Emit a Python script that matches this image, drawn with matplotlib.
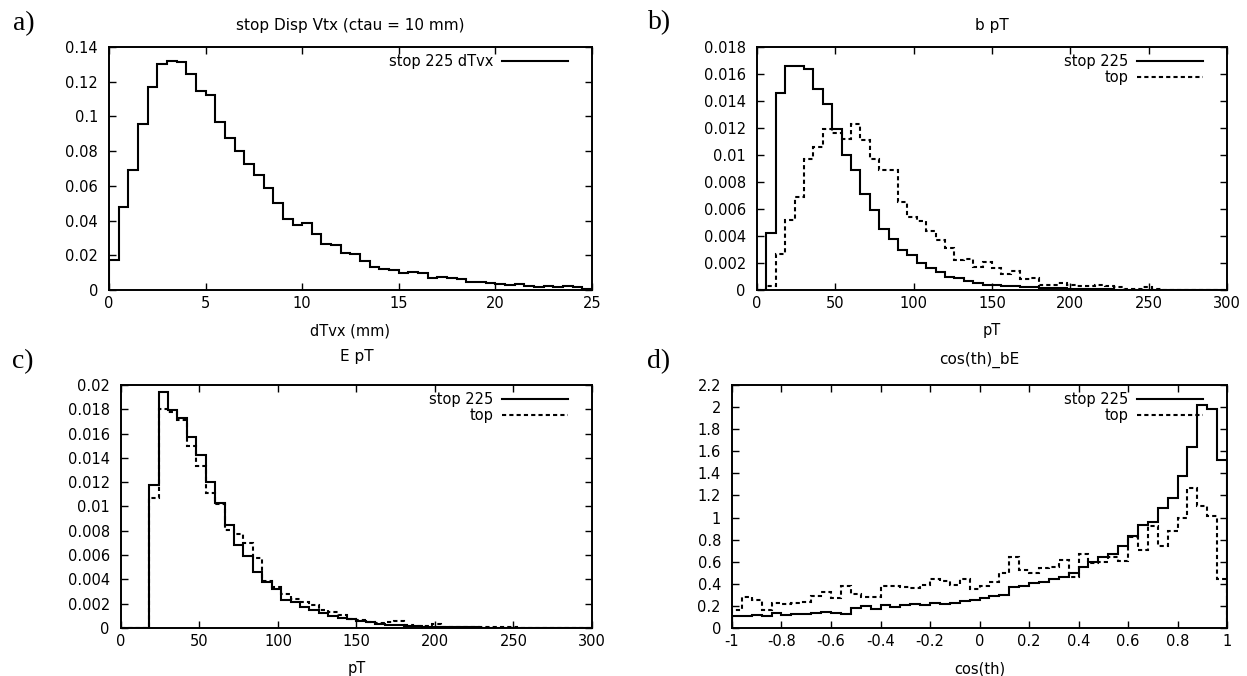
import matplotlib
matplotlib.use('Agg')
import matplotlib.pyplot as plt
import matplotlib.transforms as mtransforms
import numpy as np
from matplotlib.ticker import FuncFormatter, MultipleLocator

plt.rcParams['font.family'] = ['DejaVu Sans']

######################################################################

# HISTOGRAM CONTENTS

# a) displaced vertex, 50 bins of 0.5 mm from 0 to 25
dtvx_stop = [0.0175, 0.0476, 0.0694, 0.0957, 0.1172, 0.1304, 0.1319, 0.1313, 0.1246, 0.1149,
             0.1124, 0.0965, 0.0876, 0.0802, 0.0725, 0.0665, 0.0585, 0.0500, 0.0408, 0.0374,
             0.0385, 0.0320, 0.0265, 0.0258, 0.0212, 0.0210, 0.0167, 0.0134, 0.0123, 0.0115,
             0.0100, 0.0105, 0.0100, 0.0071, 0.0077, 0.0067, 0.0061, 0.0044, 0.0048, 0.0042,
             0.0036, 0.0031, 0.0033, 0.0025, 0.0019, 0.0025, 0.0015, 0.0025, 0.0015, 0.0008]

# b) b pT, 50 bins of 6 GeV from 0 to 300
bpt_stop = [0.0, 0.0042, 0.0146, 0.0166, 0.0166, 0.0164, 0.0149, 0.0138, 0.0119, 0.0100,
            0.0089, 0.0071, 0.0059, 0.0045, 0.0038, 0.0030, 0.0026, 0.0020, 0.0016, 0.0013,
            0.0010, 0.0009, 0.0007, 0.0005, 0.0004, 0.0004, 0.00032, 0.0003, 0.00025, 0.0002,
            0.00018, 0.00015, 0.00012, 0.0001, 0.00008, 0.00007, 0.00005, 0.00004, 0.00003, 0.00002,
            0.00002, 0.00001, 0.00001, 0.00001, 0.00001, 0.0, 0.0, 0.0, 0.0, 0.0]
bpt_top = [0.0, 0.0003, 0.0027, 0.0052, 0.0069, 0.0097, 0.0106, 0.0119, 0.0116, 0.0112,
           0.0123, 0.0111, 0.0097, 0.0089, 0.0089, 0.0065, 0.0054, 0.0051, 0.0044, 0.0037,
           0.0031, 0.0022, 0.0023, 0.0017, 0.0021, 0.0016, 0.0012, 0.0014, 0.0008, 0.0009,
           0.0004, 0.0004, 0.0005, 0.0004, 0.0003, 0.0003, 0.0004, 0.0003, 0.0002, 0.0001,
           0.00005, 0.0002, 0.00005, 0.00003, 0.00003, 0.00003, 0.00003, 0.00002, 0.00002, 0.00002]

# c) E pT, 50 bins of 6 GeV from 0 to 300
ept_stop = [0.0, 0.0, 0.0, 0.0118, 0.0194, 0.0179, 0.0173, 0.0157, 0.0142, 0.0120,
            0.0103, 0.0085, 0.0068, 0.0059, 0.0046, 0.0038, 0.0032, 0.0023, 0.0021, 0.0017,
            0.0015, 0.0012, 0.0010, 0.0008, 0.0007, 0.00055, 0.00047, 0.00036, 0.00027, 0.00022,
            0.00015, 0.00013, 0.0001, 0.00009, 0.00008, 0.00007, 0.00006, 0.00005, 0.00004, 0.00004,
            0.00003, 0.00003, 0.00002, 0.00002, 0.00002, 0.00001, 0.00001, 0.00001, 0.00001, 0.00001]
ept_top = [0.0, 0.0, 0.0, 0.0107, 0.0180, 0.0178, 0.0171, 0.0150, 0.0133, 0.0111,
           0.0102, 0.0081, 0.0077, 0.0070, 0.0058, 0.0039, 0.0034, 0.0028, 0.0024, 0.0021,
           0.0019, 0.0015, 0.0013, 0.0011, 0.00074, 0.00063, 0.0005, 0.00041, 0.00047, 0.00055,
           0.00025, 0.0002, 0.00015, 0.00035, 0.00012, 0.0001, 0.00008, 0.0001, 0.00007, 0.00006,
           0.00005, 0.00006, 0.00004, 0.00004, 0.00003, 0.00003, 0.00003, 0.00002, 0.00002, 0.00002]

# d) cos(th)_bE, 50 bins of 0.04 from -1 to 1
cos_stop = [0.11, 0.105, 0.12, 0.105, 0.135, 0.12, 0.125, 0.125, 0.135, 0.145,
            0.14, 0.13, 0.18, 0.195, 0.17, 0.205, 0.19, 0.21, 0.22, 0.205,
            0.23, 0.22, 0.23, 0.24, 0.25, 0.27, 0.29, 0.30, 0.37, 0.38,
            0.41, 0.42, 0.44, 0.465, 0.50, 0.555, 0.595, 0.645, 0.67, 0.745,
            0.83, 0.93, 0.96, 1.09, 1.18, 1.38, 1.64, 2.02, 1.98, 1.52]
cos_top = [0.166, 0.28, 0.256, 0.166, 0.226, 0.22, 0.23, 0.235, 0.29, 0.33,
           0.27, 0.38, 0.31, 0.28, 0.28, 0.377, 0.377, 0.37, 0.36, 0.39,
           0.44, 0.43, 0.39, 0.44, 0.35, 0.38, 0.42, 0.495, 0.64, 0.525,
           0.495, 0.54, 0.555, 0.615, 0.46, 0.67, 0.585, 0.60, 0.64, 0.61,
           0.82, 0.705, 0.92, 0.74, 0.88, 1.0, 1.265, 1.105, 1.01, 0.44]

######################################################################

# GNUPLOT LOOKING AXES

FS = 10.5


def gp_axes(ax, xlim, ylim, xstep, ystep, xlabel, title, pad):
    ax.set_xlim(*xlim)
    ax.set_ylim(*ylim)
    ax.xaxis.set_major_locator(MultipleLocator(xstep))
    ax.yaxis.set_major_locator(MultipleLocator(ystep))
    fmt = FuncFormatter(lambda v, p: '%g' % round(v, 6))
    ax.xaxis.set_major_formatter(fmt)
    ax.yaxis.set_major_formatter(fmt)
    ax.tick_params(direction='in', top=True, right=True, length=5, width=1.0,
                   labelsize=FS)
    ax.tick_params(axis='x', pad=4)
    ax.tick_params(axis='y', pad=8)
    for s in ax.spines.values():
        s.set_linewidth(1.4)
    ax.set_xlabel(xlabel, fontsize=FS, labelpad=9)
    ax.set_title(title, fontsize=11, pad=pad)


def gp_legend(ax):
    # gnuplot style key: text right aligned, sample to the right
    shift = mtransforms.ScaledTranslation(-0.24, -0.07, fig.dpi_scale_trans)
    ax.legend(loc='upper right', bbox_to_anchor=(1, 1),
              bbox_transform=ax.transAxes + shift,
              frameon=False, markerfirst=False, fontsize=FS,
              handlelength=4.5, handletextpad=0.6, labelspacing=0.1,
              borderaxespad=0, borderpad=0)


fig = plt.figure(figsize=(12.47, 6.76), dpi=100)
ax_a = fig.add_axes([0.0874, 0.571, 0.3873, 0.3595])
ax_b = fig.add_axes([0.607, 0.571, 0.3769, 0.3595])
ax_c = fig.add_axes([0.097, 0.071, 0.3777, 0.3595])
ax_d = fig.add_axes([0.587, 0.071, 0.397, 0.3595])

lw = 1.5
dash = (0, (2, 1.5))

edges_a = np.arange(0, 25.01, 0.5)
ax_a.stairs(dtvx_stop, edges_a, color='black', lw=lw, label='stop 225 dTvx')
gp_axes(ax_a, (0, 25), (0, 0.14), 5, 0.02, 'dTvx (mm)', 'stop Disp Vtx (ctau = 10 mm)', 12)
gp_legend(ax_a)

edges_pt = np.arange(0, 300.01, 6)
ax_b.stairs(bpt_stop, edges_pt, color='black', lw=lw, label='stop 225')
ax_b.stairs(bpt_top, edges_pt, color='black', lw=lw, ls=dash, label='top')
gp_axes(ax_b, (0, 300), (0, 0.018), 50, 0.002, 'pT', 'b pT', 12)
gp_legend(ax_b)

ax_c.stairs(ept_stop, edges_pt, color='black', lw=lw, label='stop 225')
ax_c.stairs(ept_top, edges_pt, color='black', lw=lw, ls=dash, label='top')
gp_axes(ax_c, (0, 300), (0, 0.02), 50, 0.002, 'pT', 'E pT', 17)
gp_legend(ax_c)

edges_cos = np.linspace(-1, 1, 51)
ax_d.stairs(cos_stop, edges_cos, color='black', lw=lw, label='stop 225')
ax_d.stairs(cos_top, edges_cos, color='black', lw=lw, ls=dash, label='top')
gp_axes(ax_d, (-1, 1), (0, 2.2), 0.2, 0.2, 'cos(th)', 'cos(th)_bE', 15)
gp_legend(ax_d)

# panel letters
for txt, x, y in [('a)', 24, 24), ('b)', 660, 23), ('c)', 23, 362), ('d)', 659, 362)]:
    fig.text(x / 1247, 1 - y / 676, txt, ha='center', va='center', fontsize=20,
             family=['Liberation Serif', 'DejaVu Serif'])

plt.savefig('out.png', dpi=100)
